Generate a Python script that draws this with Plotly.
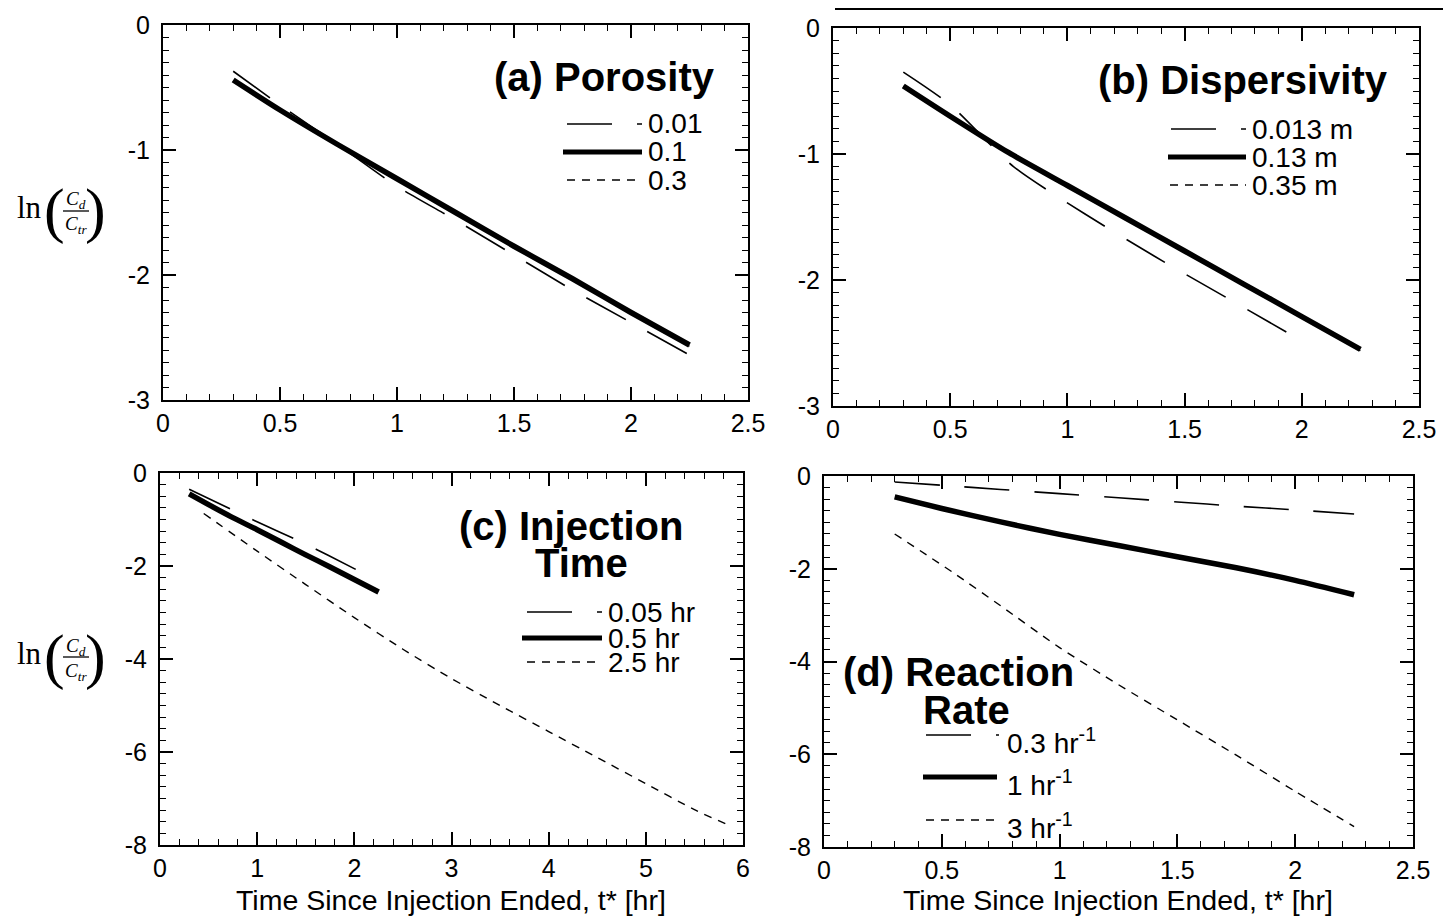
import plotly.graph_objects as go

W, H = 1451, 919
OFF = 8  # page body margin of the html page

# ------------------------------------------------------------------ data
# (a) Porosity
t_a = [0.3, 0.5, 0.75, 1.0, 1.25, 1.5, 1.75, 2.0, 2.25]
a_por_001 = [-0.37, -0.64, -0.96, -1.29, -1.56, -1.84, -2.12, -2.38, -2.64]
a_por_01 = [-0.44, -0.68, -0.96, -1.23, -1.50, -1.77, -2.03, -2.30, -2.56]
a_por_03 = [-0.45, -0.69, -0.97, -1.24, -1.51, -1.77, -2.04, -2.31, -2.57]

# (b) Dispersivity
t_b = [0.3, 0.5, 0.75, 1.0, 1.25, 1.5, 1.75, 2.0, 2.25]
t_b_0013 = [0.3, 0.5, 0.77, 1.07, 1.37, 1.66, 1.95]
b_disp_0013 = [-0.35, -0.61, -1.10, -1.47, -1.81, -2.12, -2.43]
b_disp_013 = [-0.46, -0.70, -0.99, -1.25, -1.51, -1.77, -2.03, -2.29, -2.55]
b_disp_035 = [-0.46, -0.71, -1.00, -1.26, -1.52, -1.78, -2.04, -2.30, -2.56]

# (c) Injection time
t_c_005 = [0.3, 0.77, 1.01, 1.48, 1.73, 2.2]
c_inj_005 = [-0.35, -0.82, -1.06, -1.51, -1.77, -2.27]
t_c_05 = [0.3, 0.5, 0.75, 1.0, 1.25, 1.5, 1.75, 2.0, 2.25]
c_inj_05 = [-0.45, -0.68, -0.96, -1.22, -1.49, -1.76, -2.02, -2.29, -2.56]
t_c_25 = [0.45, 1.0, 1.5, 2.0, 2.5, 3.0, 3.5, 4.0, 4.5, 5.0, 5.5, 5.85]
c_inj_25 = [-0.87, -1.68, -2.40, -3.11, -3.79, -4.42, -5.00, -5.56, -6.12, -6.68, -7.24, -7.57]

# (d) Reaction rate
t_d = [0.3, 0.5, 0.75, 1.0, 1.25, 1.5, 1.75, 2.0, 2.25]
d_k_03 = [-0.13, -0.20, -0.29, -0.38, -0.47, -0.56, -0.65, -0.73, -0.82]
d_k_1 = [-0.45, -0.70, -0.99, -1.26, -1.50, -1.74, -1.98, -2.25, -2.56]
t_d_3 = [0.3, 0.55, 0.75, 1.0, 1.25, 1.5, 1.75, 2.0, 2.25]
d_k_3 = [-1.25, -2.09, -2.80, -3.70, -4.50, -5.26, -6.02, -6.80, -7.56]

# tick values / labels
xt_short = [0, 0.5, 1, 1.5, 2, 2.5]
xt_short_lab = ["0", "0.5", "1", "1.5", "2", "2.5"]
xt_long = [0, 1, 2, 3, 4, 5, 6]
xt_long_lab = ["0", "1", "2", "3", "4", "5", "6"]
yt_small = [0, -1, -2, -3]
yt_small_lab = ["0", "-1", "-2", "-3"]
yt_big = [0, -2, -4, -6, -8]
yt_big_lab = ["0", "-2", "-4", "-6", "-8"]

titles = [["(a) Porosity"], ["(b) Dispersivity"], ["(c) Injection", "Time"], ["(d) Reaction", "Rate"]]
labels_a = ["0.01", "0.1", "0.3"]
labels_b = ["0.013 m", "0.13 m", "0.35 m"]
labels_c = ["0.05 hr", "0.5 hr", "2.5 hr"]
labels_d = ["0.3 hr<sup>-1</sup>", "1 hr<sup>-1</sup>", "3 hr<sup>-1</sup>"]
x_title = "Time Since Injection Ended, t* [hr]"

# ------------------------------------------------------------------ styles
LONG = dict(color="black", width=1.6, dash="45px,25px")
THICK = dict(color="black", width=5.5)
SHORT = dict(color="black", width=1.4, dash="8px,7px")
SANS = "Liberation Sans, Arial, Helvetica, sans-serif"
SERIF = "Liberation Serif, Times New Roman, serif"


def px(x):
    return (x - OFF) / W


def py(y):
    return 1 - (y - OFF) / H


fig = go.Figure()

series = [
    (1, t_a, a_por_001, LONG, labels_a[0]),
    (1, t_a, a_por_03, SHORT, labels_a[2]),
    (1, t_a, a_por_01, THICK, labels_a[1]),
    (2, t_b, b_disp_035, SHORT, labels_b[2]),
    (2, t_b, b_disp_013, THICK, labels_b[1]),
    (2, t_b_0013, b_disp_0013, LONG, labels_b[0]),
    (3, t_c_005, c_inj_005, LONG, labels_c[0]),
    (3, t_c_05, c_inj_05, THICK, labels_c[1]),
    (3, t_c_25, c_inj_25, SHORT, labels_c[2]),
    (4, t_d, d_k_03, LONG, "0.3 hr-1"),
    (4, t_d, d_k_1, THICK, "1 hr-1"),
    (4, t_d_3, d_k_3, SHORT, "3 hr-1"),
]
for k, x, y, ln, nm in series:
    sfx = "" if k == 1 else str(k)
    lnd = dict(ln, shape="spline", smoothing=0.7)
    fig.add_trace(go.Scatter(x=x, y=y, mode="lines", line=lnd, name=nm,
                             xaxis="x" + sfx, yaxis="y" + sfx, showlegend=False,
                             hoverinfo="skip"))

# panel frames in (reference) pixels: left, right, top, bottom
frames = {
    1: (163, 748, 25, 400),
    2: (833, 1419, 28, 406),
    3: (160, 743, 473, 845),
    4: (824, 1413, 476, 847),
}
xr = {1: ([0, 2.5], xt_short, xt_short_lab, 0.1), 2: ([0, 2.5], xt_short, xt_short_lab, 0.1),
      3: ([0, 6], xt_long, xt_long_lab, 0.2), 4: ([0, 2.5], xt_short, xt_short_lab, 0.1)}
yr = {1: ([-3, 0], yt_small, yt_small_lab, 0.1), 2: ([-3, 0], yt_small, yt_small_lab, 0.1),
      3: ([-8, 0], yt_big, yt_big_lab, 0.25), 4: ([-8, 0], yt_big, yt_big_lab, 0.25)}

common = dict(showline=True, linecolor="black", linewidth=2.2, mirror="allticks",
              ticks="inside", ticklen=13, tickwidth=1.8, tickcolor="black",
              showgrid=False, zeroline=False, fixedrange=True, automargin=False,
              tickmode="array",
              tickfont=dict(family=SANS, size=25, color="black"))
layout_axes = {}
for k, (l, r, t, b) in frames.items():
    sfx = "" if k == 1 else str(k)
    rng, tv, tt, mdt = xr[k]
    xa = dict(common, domain=[px(l), px(r)], range=rng, tickvals=tv, ticktext=tt,
              anchor="y" + sfx, ticklabelstandoff=0,
              minor=dict(ticks="inside", ticklen=6, tickwidth=1.4, tickcolor="black",
                         tickmode="linear", dtick=mdt, tick0=0))
    rng, tv, tt, mdt = yr[k]
    ya = dict(common, domain=[py(b), py(t)], range=rng, tickvals=tv, ticktext=tt,
              anchor="x" + sfx, ticklabelstandoff=6,
              minor=dict(ticks="inside", ticklen=6, tickwidth=1.4, tickcolor="black",
                         tickmode="linear", dtick=mdt, tick0=0))
    layout_axes["xaxis" + sfx] = xa
    layout_axes["yaxis" + sfx] = ya

annotations = []
shapes = []


def text(x, y, s, size, family=SANS, xanchor="left", yanchor="middle", align="left"):
    annotations.append(dict(x=px(x), y=py(y), xref="paper", yref="paper", text=s,
                            showarrow=False, xanchor=xanchor, yanchor=yanchor, align=align,
                            font=dict(family=family, size=size, color="black")))


def seg(x0, x1, y, ln):
    shapes.append(dict(type="line", xref="paper", yref="paper",
                       x0=px(x0), x1=px(x1), y0=py(y), y1=py(y), line=ln))


# panel titles
text(717, 77, "<b>" + titles[0][0] + "</b>", 40, xanchor="right")
text(1390, 80, "<b>" + titles[1][0] + "</b>", 40, xanchor="right")
text(571, 526, "<b>" + titles[2][0] + "</b>", 40, xanchor="center")
text(581, 563, "<b>" + titles[2][1] + "</b>", 40, xanchor="center")
text(959, 672, "<b>" + titles[3][0] + "</b>", 40, xanchor="center")
text(966, 710, "<b>" + titles[3][1] + "</b>", 40, xanchor="center")

# legends (sample line + text)
legends = [
    (labels_a, [(567, 642, 124), (563, 642, 152), (567, 642, 180)], 646, 0),
    (labels_b, [(1171, 1246, 129), (1168, 1246, 157), (1170, 1246, 185)], 1250, 0),
    (labels_c, [(527, 602, 612), (522, 602, 638), (527, 602, 662)], 606, 0),
    (labels_d, [(926, 999, 735), (923, 997, 777), (926, 999, 820)], 1005, 6),
]
for labs, rows, tx, dy in legends:
    for lab, (x0, x1, yy), ln in zip(labs, rows, [LONG, THICK, SHORT]):
        lnw = dict(ln)
        if ln is THICK:
            lnw["width"] = 5
        seg(x0, x1, yy, lnw)
        text(tx, yy + dy, lab, 28)

# y-axis titles  ln(C_d / C_tr)
for dy in (0, 446):
    text(29, 207 + dy, "ln", 31, family=SERIF, xanchor="center")
    text(54, 210 + dy, "(", 62, family=SERIF, xanchor="center")
    text(95, 210 + dy, ")", 62, family=SERIF, xanchor="center")
    text(76, 213 + dy, "<i>C<sub>d</sub></i><br><i>C<sub>tr</sub></i>", 19,
         family=SERIF, xanchor="center", align="center")
    seg(63, 89, 211 + dy, dict(color="black", width=1.3))

# x-axis titles
text(451, 900, x_title, 28.5, xanchor="center")
text(1118, 900, x_title, 28.5, xanchor="center")

# rule at the top of the scanned page
seg(835, 1445, 9, dict(color="black", width=2))

fig.update_layout(
    template="none",
    width=W, height=H, autosize=False,
    margin=dict(l=0, r=0, t=0, b=0, pad=0, autoexpand=False),
    paper_bgcolor="white", plot_bgcolor="white",
    showlegend=False,
    annotations=annotations, shapes=shapes,
    **layout_axes,
)

fig.write_html("out.html")
